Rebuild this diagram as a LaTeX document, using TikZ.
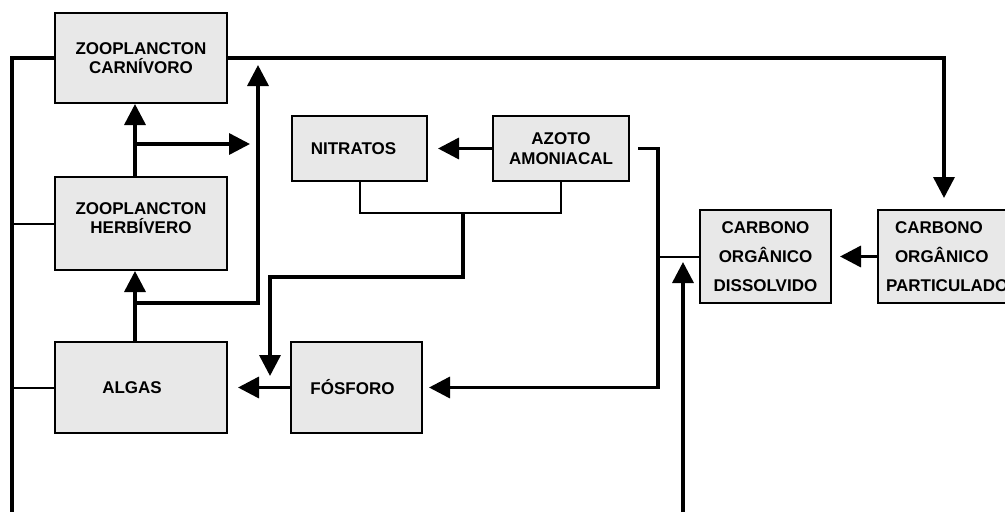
\documentclass[tikz,border=0pt]{standalone}
\usepackage{fontspec}
\setmainfont{Liberation Sans}
\usetikzlibrary{arrows.meta}
\begin{document}
\begin{tikzpicture}[x=1pt,y=-1pt,
  box/.style={draw=black, line width=2pt, fill=gray!18, inner sep=0pt,
    align=center, font=\bfseries\fontsize{17}{19}\selectfont},
  flow/.style={line width=3.5pt, -{Triangle[length=21pt,width=21pt]}},
  thickline/.style={line width=3.5pt},
  thinline/.style={line width=2pt}]
\useasboundingbox (0,0) rectangle (1005,512);

% compartments
\node[box, minimum width=172pt, minimum height=90pt] (zc) at (141,58) {ZOOPLANCTON\\CARNÍVORO};
\node[box, minimum width=172pt, minimum height=93pt, text depth=10pt] (zh) at (141,223.5) {ZOOPLANCTON\\HERBÍVERO};
\node[box, minimum width=172pt, minimum height=91pt] (alg) at (141,387.5) {ALGAS\hspace*{18pt}};
\node[box, minimum width=131pt, minimum height=91pt] (fos) at (356.5,387.5) {FÓSFORO\hspace*{8pt}};
\node[box, minimum width=135pt, minimum height=65pt] (nit) at (359.5,148.5) {NITRATOS\hspace*{12pt}};
\node[box, minimum width=136pt, minimum height=65pt,
  font=\bfseries\fontsize{17}{20}\selectfont] (azo) at (561,148.5) {AZOTO\\AMONIACAL};
\node[box, minimum width=131pt, minimum height=93pt,
  font=\bfseries\fontsize{17}{29}\selectfont] (cod) at (765.5,256.5) {CARBONO\\ORGÂNICO\\DISSOLVIDO};
\node[box, minimum width=150pt, minimum height=93pt, text width=134pt, align=left,
  font=\bfseries\fontsize{17}{29}\selectfont] (cop) at (953,256.5)
  {\hspace*{9pt}CARBONO\\\hspace*{9pt}ORGÂNICO\\PARTICULADO};

% free ends and bends
\coordinate (railtop) at (12,58);
\coordinate (railbot) at (12,512);
\coordinate (algbr) at (135,303);
\coordinate (zcin) at (258,65);
\coordinate (herbbr) at (135,144);
\coordinate (herbout) at (250,144);
\coordinate (njoin) at (463,212);
\coordinate (ptop) at (270,277);
\coordinate (ptip) at (270,376);
\coordinate (pbend) at (658,387.5);
\coordinate (cin) at (683,512);
\coordinate (ctip) at (683,262);
\coordinate (topbend) at (944,58);

% left return rail
\draw[thickline] (zc.west) -- (railtop) -- (railbot);
\draw[thinline] (zh.west) -- (zh.west -| railtop);
\draw[thinline] (alg.west) -- (alg.west -| railtop);

% food chain
\draw[flow] ([xshift=-6pt]alg.north) -- ([xshift=-6pt]zh.south);
\draw[flow] ([xshift=-6pt]zh.north) -- ([xshift=-6pt]zc.south);
\draw[flow] (algbr) -| (zcin);
\draw[flow] (herbbr) -- (herbout);
\draw[flow, shorten >=11pt] (zc.east) -- (topbend) -- (cop.north -| topbend);

% nutrients
\draw[flow, shorten >=10pt] (azo.west) -- (nit.east);
\draw[thinline] (nit.south) -- ++(0,31) -| (azo.south);
\draw[flow] (njoin) |- (ptop) -- (ptip);
\draw[flow, shorten >=10pt] (fos.west) -- (alg.east);
\draw[flow, shorten <=8pt, shorten >=6pt] (azo.east) -| (pbend) -- (fos.east);

% carbon
\draw[thinline] (cod.west) -- (cod.west -| pbend);
\draw[flow, shorten >=8pt] (cop.west) -- (cod.east);
\draw[flow] (cin) -- (ctip);
\end{tikzpicture}
\end{document}
